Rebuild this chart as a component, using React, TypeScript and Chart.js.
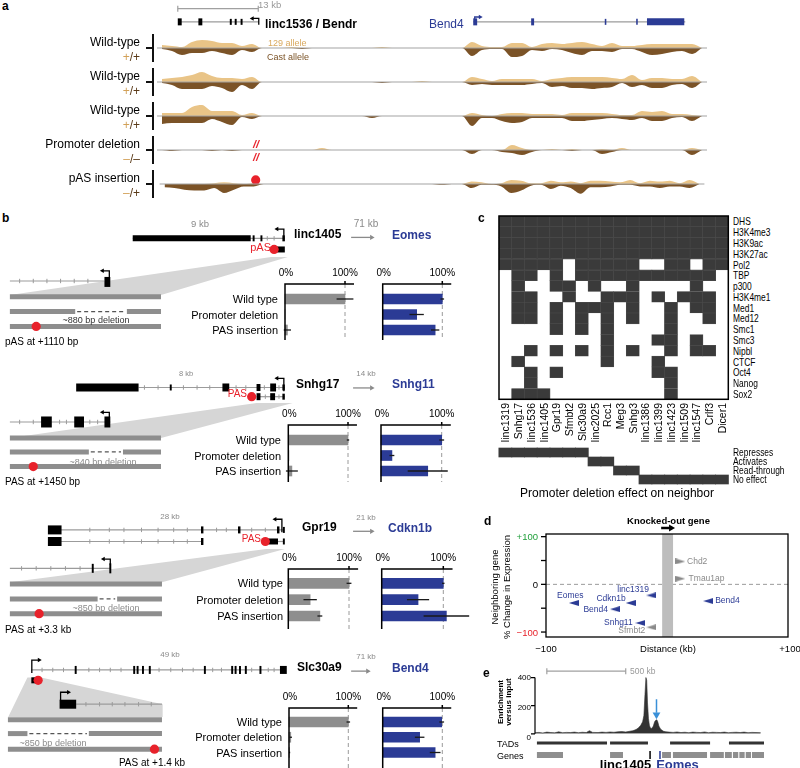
import React, { useEffect, useRef } from "react";
import { Chart, registerables } from "chart.js";
Chart.register(...registerables);

const FONT = "'Liberation Sans', Arial, Helvetica, sans-serif";
const TAN = "#e9c487";
const BROWN = "#7b5327";
const BLUE = "#2b3b95";
const RED = "#e8222b";
const DARK = "#3a3a3a";
const GRAY = "#8e8e8e";

/* ================= DATA ================= */
/* Panel a: allele-specific RNA coverage, 55 bins across the locus (track units) */
const A_BIN = 10;
const A_WT1_129 = [3,2,1,6,8,7,5,5,2,4, 0,0,0,1,0,0,0,0,0,0,0,0,1,0,0,0,0,0,0,0,0, 6,2,1,1,5,5,1,4,5,4,5,6,4,2,5,2,2,3,4,4,4,4,4,0];
const A_WT1_CAST = [1,3,7,5,5,3,5,7,2,4, 0,0,0,0,1,0,0,0,0,0,0,0,0,0,0,0,0,0,0,0,0, 8,2,1,1,9,8,2,3,1,2,5,7,3,3,4,1,1,4,7,6,4,3,6,0];
const A_WT2_129 = [3,4,5,7,10,6,4,4,3,5, 0,0,0,0,0,0,0,0,0,0,0,0,0,0,0,0,1,0,0,0,0, 5,3,1,3,3,3,3,1,3,4,5,5,5,5,4,3,7,2,4,4,3,3,6,0];
const A_WT2_CAST = [1,3,7,7,7,4,6,10,3,7, 0,0,0,0,0,0,0,0,0,0,0,0,1,0,0,0,0,0,0,0,0, 3,2,3,3,3,3,2,1,5,4,6,6,7,6,5,1,5,3,6,6,3,2,6,0];
const A_WT3_129 = [3,3,3,9,11,5,5,5,1,3, 0,0,0,0,0,0,0,0,0,0,0,0,0,0,0,0,0,0,0,0,0, 3,1,0,2,3,3,2,2,2,1,3,3,3,3,2,1,1,5,4,5,2,2,1,0];
const A_WT3_CAST = [8,7,7,7,7,3,6,9,1,3, 0,0,0,0,0,0,0,0,0,0,0,2,0,0,0,0,0,0,0,0,0, 10,2,2,5,7,6,2,2,2,2,5,5,4,3,2,3,4,2,5,5,2,1,5,0];
const A_DEL_129 = [0,0,0,0,0,0,0,0,0,0, 0,0,0,0,0,0,2,0,0,0,0,0,0,0,0,0,0,0,0,0,0, 0,0,0,0,5,2,0,0,1,0,1,0,0,1,0,2,0,0,0,0,0,0,2,0];
const A_DEL_CAST = [0,1,0,0,0,1,0,1,0,0, 0,0,0,0,0,0,0,0,0,0,0,0,0,0,0,0,0,0,0,0,0, 4,0,0,2,3,5,2,0,0,0,1,0,0,4,2,0,0,0,0,0,0,0,5,0];
const A_PAS_129 = [0,0,0,0,0,1,2,1,0,1, 0,0,0,0,0,0,0,0,0,0,0,0,0,0,0,0,0,0,0,0,0, 3,2,0,1,5,4,1,1,4,2,3,1,4,4,3,2,5,1,4,3,4,1,5,0];
const A_PAS_CAST = [4,5,7,8,8,5,11,7,3,3, 0,0,0,0,0,0,0,0,0,0,0,0,0,0,0,0,0,0,1,0,0, 5,1,1,3,11,8,2,1,6,2,5,12,4,4,3,1,1,3,3,5,3,3,5,0];
const A_TRACK_LABELS = ["Wild-type", "Wild-type", "Wild-type", "Promoter deletion", "pAS insertion"];
const A_GENOTYPES = [["+", "/+"], ["+", "/+"], ["+", "/+"], ["–", "/–"], ["–", "/+"]];
const A_PAS_SITE = 97;

/* Panel b: expression relative to wild type (%) */
const B_CONDITIONS = ["Wild type", "Promoter deletion", "PAS insertion"];
const B_GENES = ["linc1405", "Snhg17", "Gpr19", "Slc30a9"];
const B_NEIGHBORS = ["Eomes", "Snhg11", "Cdkn1b", "Bend4"];
const B_DISTANCES = ["71 kb", "14 kb", "21 kb", "71 kb"];
const B_GENE_SIZES = ["9 kb", "8 kb", "28 kb", "49 kb"];
const B1_GENE = [100, 0, 4];   const B1_GENE_ERR = [14, 0, 6];
const B1_NEIGH = [100, 57, 88]; const B1_NEIGH_ERR = [3, 12, 7];
const B2_GENE = [100, 1, 6];   const B2_GENE_ERR = [2, 0, 10];
const B2_NEIGH = [100, 18, 77]; const B2_NEIGH_ERR = [4, 4, 33];
const B3_GENE = [100, 36, 52]; const B3_GENE_ERR = [4, 11, 4];
const B3_NEIGH = [100, 59, 105]; const B3_NEIGH_ERR = [2, 18, 37];
const B4_GENE = [100, 3, 1];   const B4_GENE_ERR = [3, 2, 1];
const B4_NEIGH = [99, 62, 88]; const B4_NEIGH_ERR = [4, 8, 9];

/* Panel c: chromatin features at each promoter */
const C_GENES = ["linc1319","Snhg17","linc1536","linc1405","Gpr19","Sfmbt2","Slc30a9","linc2025","Rcc1","Meg3","Snhg3","linc1386","linc1399","linc1423","linc1509","linc1547","Crlf3","Dicer1"];
const C_FEATURES = ["DHS","H3K4me3","H3K9ac","H3K27ac","Pol2","TBP","p300","H3K4me1","Med1","Med12","Smc1","Smc3","Nipbl","CTCF","Oct4","Nanog","Sox2"];
const C_MATRIX = [
  "111111111111111111",
  "111111111111111111",
  "111111111111111111",
  "111111111111111111",
  "111110111110011011",
  "011010111111111110",
  "010011010010000100",
  "011001001110101110",
  "011010111010010110",
  "011010101010010010",
  "000010101000010000",
  "000000001000110100",
  "001010101010010110",
  "010000001000100000",
  "001010000000110000",
  "001000000000010000",
  "011100000000010000",
];
const C_EFFECTS = ["Represses", "Activates", "Read-through", "No effect"];
const C_EFFECT_OF_GENE = [0,0,0,0,0,0,0,1,1,2,2,3,3,3,3,3,3,3];

/* Panel d: neighbouring gene change vs distance */
const D_GENES = ["Eomes","Bend4","Cdkn1b","linc1319","Snhg11","Sfmbt2","Chd2","Tmau1ap","Bend4"];
const D_DIST_KB = [-77, -43, -30, -13, -22, -13, 11, 11, 34];
const D_CHANGE = [-39, -52, -39, -23, -81, -90, 48, 12, -35];
const D_SIGNIFICANT = [true, true, true, true, true, false, false, false, true];
const D_STRAND = ["-", "-", "-", "-", "-", "-", "+", "+", "-"];
const D_KO_GENE = [-4, 5];
const D_YTICKS = [100, 50, 0, -50, -100];

/* Panel e: 4C-style enrichment around linc1405 ([kb, enrichment]) */
const E_ENRICH = [[0,8],[25,10],[50,6],[75,12],[100,9],[125,7],[150,14],[175,8],[200,10],[225,9],[250,12],[275,8],[300,11],[325,9],[345,22],[365,10],[400,9],[425,12],[450,10],[475,13],[500,11],[525,14],[550,16],[575,13],[600,18],[620,22],[640,30],[655,42],[670,60],[682,85],[690,130],[697,280],[703,400],[708,380],[713,220],[719,110],[725,60],[731,42],[740,38],[750,55],[758,85],[765,96],[772,100],[778,85],[785,55],[795,35],[805,25],[815,18],[830,14],[850,12],[875,10],[900,13],[925,9],[950,11],[975,8],[1000,12],[1025,10],[1050,9],[1075,13],[1100,8],[1125,11],[1150,10],[1175,9],[1200,12],[1225,8],[1250,10],[1275,11],[1300,9],[1325,12],[1350,8],[1375,10],[1400,9],[1431,8]];
const E_TADS = [[12,450],[469,706],[844,1094],[1212,1431]];
const E_GENES = [[12,175],[469,550],[794,850],[862,1075],[1094,1180],[1187,1230],[1237,1270],[1277,1310],[1317,1350],[1356,1431]];
const E_LINC1405_KB = 719;
const E_EOMES_KB = 781;
const E_YTICKS = [0, 200, 400];
const E_SCALE_KB = [75, 575];

/* ================= GENE DIAGRAMS (layout units) ================= */
const DIAG_A = {
  scale: [[173, 255, 5]],
  lines: [[174, 255, 24]],
  exons: [[173, 177, 24, 7], [194, 198, 24, 7], [226, 228, 24, 6], [231, 233, 24, 6], [237, 239, 24, 6]],
  arrows: [[255.5, 28, 19, 249]],
};
const DIAG_A_BEND4 = {
  lines: [[474, 690, 24]],
  exons: [[474, 478, 24, 7], [533, 536, 24, 7], [608, 609.6, 24, 6], [640, 641.6, 24, 6], [651, 689, 24, 7]],
  arrows: [[475.5, 24, 17, 481]],
};
const DIAG_B1 = {
  polys: [[[5, 296], [160, 296], [290, 255], [273, 255]]],
  lines: [[131, 287, 235], [5, 102, 281]],
  ticks: [[269, 235], [276, 235], [15, 281], [29, 281], [43, 281], [57, 281], [71, 281], [85, 281]],
  exons: [[131, 252, 235, 6], [254, 256, 235, 6], [262, 264, 235, 6], [284.5, 287, 235, 6], [279, 287, 247, 6], [102, 108, 282, 10]],
  arrows: [[286, 238, 225, 279], [107, 277, 270, 100]],
  bars: [[5, 160, 298], [5, 72, 314], [125, 160, 314], [5, 160, 330]],
  dashes: [[74, 123, 314]],
  dots: [[276, 247], [32, 330]],
  garrows: [[355, 378, 234]],
};
const DIAG_B2 = {
  polys: [[[5, 439], [160, 439], [295, 401], [258, 401]]],
  lines: [[137, 287, 384], [258, 287, 394], [5, 108, 421.5]],
  ticks: [[143, 384], [157, 384], [183, 384], [197, 384], [210, 384], [237, 384], [247, 384], [266, 384], [281, 384], [267, 394], [281, 394], [15, 421.5], [29, 421.5], [56, 421.5], [63, 421.5], [87, 421.5], [95, 421.5]],
  exons: [[73, 137, 384, 8], [169, 171, 384, 6], [223, 230, 384, 8], [258, 262, 384, 7], [272, 278, 384, 8], [284.5, 287, 384, 6], [258, 262, 394, 7], [272, 277, 394, 7], [284.5, 287, 394, 6], [37, 48, 421.5, 11], [71, 81, 421.5, 11], [102, 108, 421.5, 11]],
  arrows: [[286, 388, 374, 279], [107, 416, 411, 100]],
  bars: [[5, 160, 439], [5, 86, 454], [121, 160, 454], [5, 160, 470]],
  dashes: [[88, 119, 454]],
  dots: [[253, 394], [29, 470]],
  garrows: [[357, 378, 384.5]],
};
const DIAG_B3 = {
  polys: [[[5, 583], [161, 583], [287, 547], [268, 547]]],
  lines: [[50, 286, 526.5], [50, 202, 539], [270, 286, 539], [5, 108, 568]],
  ticks: [[87, 526.5], [107, 526.5], [122, 526.5], [140, 526.5], [157, 526.5], [173, 526.5], [187, 526.5], [217, 526.5], [227, 526.5], [253, 526.5], [267, 526.5], [87, 539], [107, 539], [122, 539], [140, 539], [157, 539], [173, 539], [187, 539], [17, 568], [32, 568], [47, 568], [62, 568], [77, 568]],
  exons: [[44, 58, 526.5, 9], [201, 203.5, 526.5, 7], [239, 241.5, 526.5, 7], [279, 281.5, 526.5, 7], [285, 287, 526.5, 6], [44, 58, 539, 9], [201, 203.5, 539, 7], [270, 280, 539, 6], [285, 287, 539, 6], [89, 91, 568, 9], [107, 109, 568, 10]],
  arrows: [[284, 529, 515, 277], [108, 564, 558, 101]],
  bars: [[5, 161, 585], [5, 95, 601], [115, 161, 601], [5, 161, 617]],
  dashes: [[97, 113, 601]],
  dots: [[267, 539], [35, 617]],
  garrows: [[357, 378, 528]],
};
const DIAG_B4 = {
  polys: [[[23, 675], [37, 675], [161.7, 704], [161.7, 718], [3.3, 718]]],
  lines: [[27, 282, 666.7], [73, 161, 704]],
  ticks: [[38, 666.7], [49, 666.7], [60, 666.7], [86, 666.7], [97, 666.7], [108, 666.7], [119, 666.7], [158, 666.7], [170, 666.7], [182, 666.7], [193, 666.7], [213, 666.7], [222, 666.7], [253, 666.7], [270, 666.7], [276, 666.7], [83, 704], [97, 704], [110, 704], [123, 704], [137, 704], [150, 704]],
  exons: [[71.5, 73.5, 666.7, 8], [131.5, 133.5, 666.7, 8], [135, 137, 666.7, 8], [140.5, 142.5, 666.7, 8], [147.5, 149.5, 666.7, 8], [204, 206, 666.7, 8], [232, 234, 666.7, 8], [235.5, 237.5, 666.7, 8], [240, 242, 666.7, 8], [246, 248, 666.7, 8], [261, 263, 666.7, 8], [282, 289, 666.7, 8], [27, 37, 678, 6], [56, 73, 704, 9]],
  arrows: [[27.5, 670, 656, 35], [57, 700, 691, 65]],
  bars: [[3, 161, 721], [3, 23, 736], [86, 161, 736], [3, 161, 753]],
  dashes: [[25, 84, 736]],
  dots: [[34, 678], [153.3, 753]],
  garrows: [[355, 374, 668]],
};

/* ================= HELPERS ================= */
function Cv({ area, m = [0, 0, 0, 0], make }: any) {
  const ref = useRef<HTMLCanvasElement>(null);
  const [t, r, b, l] = m;
  const cl = Math.floor(area.x0 - l), ct = Math.floor(area.y0 - t);
  const cw = Math.ceil(area.x1 + r) - cl, chh = Math.ceil(area.y1 + b) - ct;
  useEffect(() => {
    const cfg = make();
    const o = cfg.options || {};
    // draw datasets in the order they are listed (first = bottom layer)
    cfg.data.datasets.forEach((d: any, i: number) => { if (d.order === undefined) d.order = -i; });
    cfg.options = {
      ...o,
      responsive: false,
      maintainAspectRatio: false,
      animation: false,
      events: [],
      layout: { padding: { left: area.x0 - cl, top: area.y0 - ct, right: cl + cw - area.x1, bottom: ct + chh - area.y1 } },
      plugins: { legend: { display: false }, tooltip: { enabled: false }, colors: { enabled: false }, ...(o.plugins || {}) },
    };
    const ch = new Chart(ref.current as HTMLCanvasElement, cfg);
    return () => ch.destroy();
  }, []);
  return <canvas ref={ref} width={cw} height={chh} style={{ position: "absolute", left: cl, top: ct, width: cw, height: chh }} />;
}

const hidden = (min: number, max: number, reverse = false) => ({ type: "linear", display: false, offset: false, grace: 0, bounds: "data", min, max, reverse });

function diag(d: any, ink: string) {
  const out: any[] = [];
  const seg = (p: number[][], o: any) => out.push({ data: p.map((q) => ({ x: q[0], y: q[1] })), pointRadius: 0, clip: false, borderWidth: 1, borderColor: ink, showLine: true, ...o });
  const pts = (p: number[][], o: any) => out.push({ data: p.map((q) => ({ x: q[0], y: q[1] })), showLine: false, clip: false, ...o });
  (d.polys || []).forEach((p: number[][]) => seg([...p, p[0]], { fill: "shape", backgroundColor: "#d6d6d6", borderWidth: 0, borderColor: "rgba(0,0,0,0)" }));
  (d.scale || []).forEach(([a, b, y]: number[]) => {
    seg([[a, y], [b, y]], { borderColor: "#a0a0a0", borderWidth: 1.2 });
    pts([[a, y], [b, y]], { pointStyle: "line", pointRotation: 90, pointRadius: 3, pointBorderColor: "#a0a0a0", pointBorderWidth: 1.2 });
  });
  (d.lines || []).forEach(([a, b, y]: number[]) => seg([[a, y], [b, y]], { borderColor: "#9b9b9b", borderWidth: 1.2 }));
  if (d.ticks) pts(d.ticks, { pointStyle: "line", pointRotation: 90, pointRadius: 2.2, pointBorderColor: "#9b9b9b", pointBorderWidth: 1 });
  (d.bars || []).forEach(([a, b, y]: number[]) => seg([[a, y], [b, y]], { borderColor: GRAY, borderWidth: 5, borderCapStyle: "butt" }));
  (d.dashes || []).forEach(([a, b, y]: number[]) => seg([[a, y], [b, y]], { borderColor: "#555", borderWidth: 1.2, borderDash: [4, 3] }));
  (d.exons || []).forEach(([a, b, y, h]: number[]) => seg([[a, y], [b, y]], { borderWidth: h, borderCapStyle: "butt" }));
  (d.arrows || []).forEach(([x, y0, y1, x2]: number[]) => {
    seg([[x, y0], [x, y1], [x2, y1]], { borderWidth: 1.3, borderJoinStyle: "miter" });
    pts([[x2, y1]], { pointStyle: "triangle", pointRotation: x2 < x ? -90 : 90, pointRadius: 2.6, pointBackgroundColor: ink, pointBorderColor: ink, pointBorderWidth: 0 });
  });
  (d.garrows || []).forEach(([a, b, y]: number[]) => {
    seg([[a, y], [b - 3, y]], { borderColor: "#8a8a8a", borderWidth: 1.3 });
    pts([[b - 2, y]], { pointStyle: "triangle", pointRotation: 90, pointRadius: 3, pointBackgroundColor: "#8a8a8a", pointBorderWidth: 0 });
  });
  if (d.dots) pts(d.dots, { pointStyle: "circle", pointRadius: 4.6, pointBackgroundColor: RED, pointBorderWidth: 0 });
  return out;
}

const diagCfg = (datasets: any[], x0: number, x1: number, y0: number, y1: number) => ({
  type: "line",
  data: { datasets },
  options: { scales: { x: hidden(x0, x1), y: hidden(y0, y1, true) } },
});

const zeroLine = {
  id: "zeroLine",
  afterDatasetsDraw(ch: any) {
    const { ctx, chartArea: a, scales } = ch;
    const p = scales.y.getPixelForValue(0);
    ctx.save();
    ctx.strokeStyle = "#a3a3a3";
    ctx.lineWidth = 1;
    ctx.beginPath();
    ctx.moveTo(a.left, p);
    ctx.lineTo(a.right, p);
    ctx.stroke();
    ctx.restore();
  },
};

const trackCfg = (up: number[], down: number[], pas: boolean) => {
  const datasets: any[] = [
    { data: up.map((v, i) => ({ x: i * A_BIN + A_BIN / 2, y: v })), fill: "origin", backgroundColor: TAN, borderColor: "rgba(0,0,0,0)", borderWidth: 0, pointRadius: 0, cubicInterpolationMode: "monotone" },
    { data: down.map((v, i) => ({ x: i * A_BIN + A_BIN / 2, y: -v })), fill: "origin", backgroundColor: BROWN, borderColor: "rgba(0,0,0,0)", borderWidth: 0, pointRadius: 0, cubicInterpolationMode: "monotone" },
  ];
  if (pas) datasets.push({ data: [{ x: A_PAS_SITE, y: 5 }], showLine: false, pointRadius: 4.6, pointBackgroundColor: RED, pointBorderWidth: 0, clip: false });
  return { type: "line", data: { datasets }, options: { scales: { x: hidden(0, up.length * A_BIN), y: hidden(-14, 14) } }, plugins: [zeroLine] };
};

const barFrame = {
  id: "barFrame",
  beforeDatasetsDraw(ch: any) {
    const { ctx, chartArea: a, scales } = ch;
    const p = scales.x.getPixelForValue(100);
    ctx.save();
    ctx.strokeStyle = "#9a9a9a";
    ctx.lineWidth = 1;
    ctx.setLineDash([4, 3]);
    ctx.beginPath();
    ctx.moveTo(p, a.top);
    ctx.lineTo(p, a.bottom);
    ctx.stroke();
    ctx.restore();
  },
  afterDatasetsDraw(ch: any) {
    const { ctx, chartArea: a, scales } = ch;
    const ds = ch.data.datasets[0];
    const meta = ch.getDatasetMeta(0);
    ctx.save();
    ctx.strokeStyle = "#1a1a1a";
    ctx.lineWidth = 1.3;
    meta.data.forEach((el: any, i: number) => {
      const v = ds.data[i].x, e = ds.errs[i];
      if (!e) return;
      ctx.beginPath();
      ctx.moveTo(scales.x.getPixelForValue(v - e), el.y);
      ctx.lineTo(scales.x.getPixelForValue(v + e), el.y);
      ctx.stroke();
    });
    const x0 = scales.x.getPixelForValue(0), x100 = scales.x.getPixelForValue(100);
    ctx.strokeStyle = "#000";
    ctx.lineWidth = 1.5;
    ctx.beginPath();
    ctx.moveTo(x0, a.bottom);
    ctx.lineTo(x0, a.top);
    ctx.lineTo(a.right, a.top);
    ctx.moveTo(x100, a.top);
    ctx.lineTo(x100, a.top - 3);
    ctx.stroke();
    ctx.restore();
  },
};

const barCfg = (vals: number[], errs: number[], color: string, L: any) => {
  const step = (L.rows[2] - L.rows[0]) / 2;
  return {
    type: "bar",
    data: { datasets: [{ data: vals.map((v, i) => ({ x: v, y: i })), errs, backgroundColor: color, barThickness: 10, borderWidth: 0, clip: false }] },
    options: { indexAxis: "y", scales: { x: hidden(0, 115), y: hidden(-(L.rows[0] - L.top) / step, 2 + (L.bot - L.rows[2]) / step, true) } },
    plugins: [barFrame],
  };
};

function triangle(color: string, left: boolean) {
  const c = document.createElement("canvas");
  c.width = 10;
  c.height = 6;
  const g = c.getContext("2d") as CanvasRenderingContext2D;
  g.fillStyle = color;
  g.beginPath();
  if (left) { g.moveTo(0, 3); g.lineTo(10, 0); g.lineTo(10, 6); } else { g.moveTo(10, 3); g.lineTo(0, 0); g.lineTo(0, 6); }
  g.closePath();
  g.fill();
  return c;
}

/* label placement for panel d (style only) */
const D_LABEL_DX = [-3.5, -7, -5, -2.3, -7.7, -6, 6.7, 8.3, 7];
const D_LABEL_DY = [-7, 0.5, -4.5, -5.5, 0, 3.7, 0, 0, 0];
const D_LABEL_ALIGN = ["center", "right", "right", "right", "right", "right", "left", "left", "left"];

const dCfg = () => {
  const tri = {
    bl: triangle(BLUE, true), br: triangle(BLUE, false),
    gl: triangle("#8a8a8a", true), gr: triangle("#8a8a8a", false),
  };
  const Y0 = -110.4, Y1 = 105.6;
  return {
    type: "line",
    data: {
      datasets: [
        { data: [[D_KO_GENE[0], Y0], [D_KO_GENE[0], Y1], [D_KO_GENE[1], Y1], [D_KO_GENE[1], Y0], [D_KO_GENE[0], Y0]].map(([x, y]) => ({ x, y })), fill: "shape", backgroundColor: "#bdbdbd", borderWidth: 0, borderColor: "rgba(0,0,0,0)", pointRadius: 0 },
        {
          data: D_DIST_KB.map((x, i) => ({ x, y: D_CHANGE[i] })),
          showLine: false,
          pointStyle: (c: any) => {
            const i = c.dataIndex;
            return D_SIGNIFICANT[i] ? (D_STRAND[i] === "-" ? tri.bl : tri.br) : (D_STRAND[i] === "-" ? tri.gl : tri.gr);
          },
          pointRadius: 5,
          clip: false,
        },
      ],
    },
    options: { scales: { x: hidden(-100, 100), y: hidden(Y0, Y1) } },
    plugins: [{
      id: "dp",
      beforeDatasetsDraw(ch: any) {
        const { ctx, chartArea: a, scales } = ch;
        const p = scales.y.getPixelForValue(0);
        ctx.save();
        ctx.strokeStyle = "#9a9a9a";
        ctx.lineWidth = 1;
        ctx.setLineDash([4, 3]);
        ctx.beginPath();
        ctx.moveTo(a.left, p);
        ctx.lineTo(a.right, p);
        ctx.stroke();
        ctx.restore();
      },
      afterDatasetsDraw(ch: any) {
        const { ctx, chartArea: a, scales } = ch;
        ctx.save();
        ctx.strokeStyle = "#000";
        ctx.lineWidth = 1.3;
        ctx.strokeRect(a.left, a.top, a.right - a.left, a.bottom - a.top);
        D_YTICKS.forEach((v) => {
          const p = scales.y.getPixelForValue(v);
          ctx.beginPath();
          ctx.moveTo(a.left - 5, p);
          ctx.lineTo(a.left, p);
          ctx.stroke();
        });
        const k0 = scales.x.getPixelForValue(D_KO_GENE[0]), k1 = scales.x.getPixelForValue(D_KO_GENE[1]);
        const ay = a.top - 6;
        ctx.lineWidth = 2.5;
        ctx.beginPath();
        ctx.moveTo(k0 - 1, ay);
        ctx.lineTo(k1 - 3, ay);
        ctx.stroke();
        ctx.fillStyle = "#000";
        ctx.beginPath();
        ctx.moveTo(k1 + 2, ay);
        ctx.lineTo(k1 - 4, ay - 3.5);
        ctx.lineTo(k1 - 4, ay + 3.5);
        ctx.closePath();
        ctx.fill();
        ctx.font = `8.5px ${FONT}`;
        ctx.textBaseline = "middle";
        D_GENES.forEach((g, i) => {
          ctx.fillStyle = D_SIGNIFICANT[i] ? BLUE : "#8a8a8a";
          ctx.textAlign = D_LABEL_ALIGN[i];
          ctx.fillText(g, scales.x.getPixelForValue(D_DIST_KB[i]) + D_LABEL_DX[i], scales.y.getPixelForValue(D_CHANGE[i]) + D_LABEL_DY[i]);
        });
        ctx.restore();
      },
    }],
  };
};

const eCfg = () => ({
  type: "line",
  data: {
    datasets: [
      { data: E_ENRICH.map(([x, y]) => ({ x, y })), fill: "origin", backgroundColor: "#333", borderColor: "#333", borderWidth: 0.6, pointRadius: 0 },
      { data: [{ x: E_EOMES_KB - 11, y: 245 }, { x: E_EOMES_KB - 11, y: 150 }], borderColor: "#3a90d8", borderWidth: 1.5, pointRadius: 0, clip: false },
      { data: [{ x: E_EOMES_KB - 11, y: 135 }], showLine: false, pointStyle: "triangle", pointRotation: 180, pointRadius: 4.5, pointBackgroundColor: "#3a90d8", pointBorderWidth: 0, clip: false },
      { data: E_SCALE_KB.map((x) => ({ x, y: 445 })), borderColor: "#a0a0a0", borderWidth: 1.2, pointStyle: "line", pointRotation: 90, pointRadius: 3, pointBorderColor: "#a0a0a0", pointBorderWidth: 1.2, clip: false },
    ],
  },
  options: { scales: { x: hidden(0, 1431), y: hidden(0, 411) } },
  plugins: [{
    id: "ep",
    afterDatasetsDraw(ch: any) {
      const { ctx, chartArea: a, scales } = ch;
      ctx.save();
      ctx.strokeStyle = "#000";
      ctx.lineWidth = 1.2;
      ctx.beginPath();
      ctx.moveTo(a.left, scales.y.getPixelForValue(400));
      ctx.lineTo(a.left, scales.y.getPixelForValue(0));
      E_YTICKS.forEach((v) => {
        const p = scales.y.getPixelForValue(v);
        ctx.moveTo(a.left - 4, p);
        ctx.lineTo(a.left, p);
      });
      ctx.stroke();
      ctx.restore();
    },
  }],
});

const eTrackCfg = () => {
  const ds: any[] = [];
  E_TADS.forEach(([a, b]) => ds.push({ data: [{ x: a, y: 743 }, { x: b, y: 743 }], borderColor: "#333", borderWidth: 3, borderCapStyle: "butt", pointRadius: 0, clip: false }));
  E_GENES.forEach(([a, b]) => ds.push({ data: [{ x: a, y: 755 }, { x: b, y: 755 }], borderColor: GRAY, borderWidth: 6, borderCapStyle: "butt", pointRadius: 0, clip: false }));
  ds.push({ data: [{ x: E_LINC1405_KB, y: 751 }, { x: E_LINC1405_KB, y: 759 }], borderColor: "#000", borderWidth: 1.5, pointRadius: 0, clip: false });
  ds.push({ data: [{ x: E_EOMES_KB, y: 751 }, { x: E_EOMES_KB, y: 759 }], borderColor: BLUE, borderWidth: 1.5, pointRadius: 0, clip: false });
  return { type: "line", data: { datasets: ds }, options: { scales: { x: hidden(0, 1431), y: hidden(738, 762, true) } } };
};

const heatCfg = () => {
  const cells: any[] = [];
  C_MATRIX.forEach((row, r) => row.split("").forEach((v, c) => { if (v === "1") cells.push({ x: c + 0.5, y: [r, r + 1] }); }));
  return {
    type: "bar",
    data: { datasets: [{ data: cells, backgroundColor: DARK, borderColor: "#4e4e4e", borderWidth: 0.6, borderSkipped: false, barThickness: 13.1, clip: false }] },
    options: { scales: { x: hidden(0, C_GENES.length), y: hidden(0, C_FEATURES.length, true) } },
    plugins: [{
      id: "hf",
      afterDatasetsDraw(ch: any) {
        const { ctx, chartArea: a } = ch;
        ctx.save();
        ctx.strokeStyle = "#000";
        ctx.lineWidth = 1.5;
        ctx.strokeRect(a.left, a.top, a.right - a.left, a.bottom - a.top);
        ctx.restore();
      },
    }],
  };
};

const effectCfg = () => ({
  type: "bar",
  data: { datasets: [{ data: C_EFFECT_OF_GENE.map((e, c) => ({ x: c + 0.5, y: [e, e + 1] })), backgroundColor: DARK, borderWidth: 0, barThickness: 13.1, clip: false }] },
  options: { scales: { x: hidden(0, C_GENES.length), y: hidden(0, C_EFFECTS.length, true) } },
});

/* ================= TEXT HELPERS ================= */
function T({ x, y, s = 11, c = "#000", b = false, a = "l", it = false, children }: any) {
  const tx = a === "l" ? "0" : a === "r" ? "-100%" : "-50%";
  return (
    <div style={{ position: "absolute", left: x, top: y, fontSize: s, color: c, fontWeight: b ? 700 : 400, fontStyle: it ? "italic" : "normal", lineHeight: 1, whiteSpace: "nowrap", transform: `translate(${tx},-50%)` }}>
      {children}
    </div>
  );
}
function RT({ x, y, s = 9.5, b = false, children }: any) {
  return (
    <div style={{ position: "absolute", left: x, top: y, fontSize: s, fontWeight: b ? 700 : 400, lineHeight: 1, whiteSpace: "nowrap", transform: "translate(-50%,-50%) rotate(-90deg)" }}>
      {children}
    </div>
  );
}

/* ================= LAYOUT ================= */
const A_YB = [48, 82, 116, 150, 184];
const A_TRACKS = [[A_WT1_129, A_WT1_CAST], [A_WT2_129, A_WT2_CAST], [A_WT3_129, A_WT3_CAST], [A_DEL_129, A_DEL_CAST], [A_PAS_129, A_PAS_CAST]];
const B_DIAGS = [DIAG_B1, DIAG_B2, DIAG_B3, DIAG_B4];
const B_DIAG_Y = [[212, 350], [365, 490], [505, 640], [645, 768]];
const B_VALUES = [[B1_GENE, B1_GENE_ERR, B1_NEIGH, B1_NEIGH_ERR], [B2_GENE, B2_GENE_ERR, B2_NEIGH, B2_NEIGH_ERR], [B3_GENE, B3_GENE_ERR, B3_NEIGH, B3_NEIGH_ERR], [B4_GENE, B4_GENE_ERR, B4_NEIGH, B4_NEIGH_ERR]];
const B_LAYOUT = [
  { gx0: 285, gx100: 345, nx0: 382.7, nx100: 442.3, top: 284, bot: 340, rows: [299, 314.5, 330], labR: 278, geneY: 234, distY: 224, sizeX: 200, sizeY: 224, nameX: 294, neighX: 392, sizeS: 9.5, distS: 10 },
  { gx0: 288.3, gx100: 348, nx0: 381, nx100: 441.7, top: 425, bot: 482, rows: [440, 455.5, 471], labR: 281, geneY: 383.5, distY: 374, sizeX: 186, sizeY: 374, nameX: 296, neighX: 392, sizeS: 7.5, distS: 8 },
  { gx0: 288.3, gx100: 349, nx0: 381.7, nx100: 443.3, top: 569, bot: 629, rows: [583.3, 600, 616], labR: 283, geneY: 527, distY: 518, sizeX: 170, sizeY: 516.5, nameX: 302, neighX: 388, sizeS: 8, distS: 8 },
  { gx0: 289, gx100: 348.3, nx0: 382.7, nx100: 442.3, top: 708, bot: 768, rows: [722, 736.7, 752.5], labR: 282, geneY: 667, distY: 657, sizeX: 170, sizeY: 655, nameX: 297, neighX: 392, sizeS: 8, distS: 8 },
];
const C_X0 = 499, C_X1 = 728.3, C_Y0 = 216, C_Y1 = 399.3;
const C_COLW = (C_X1 - C_X0) / C_GENES.length;
const C_ROWH = (C_Y1 - C_Y0) / C_FEATURES.length;

export default function App() {
  return (
    <div style={{ position: "absolute", left: 0, top: 0, width: 800, height: 768, overflow: "hidden", background: "#fff", fontFamily: FONT, color: "#000" }}>
      {/* ---------- panel a ---------- */}
      <Cv area={{ x0: 150, x1: 715, y0: 0, y1: 34 }} make={() => diagCfg([...diag(DIAG_A, "#000"), ...diag(DIAG_A_BEND4, BLUE)], 150, 715, 0, 34)} />
      {A_TRACKS.map(([u, d], k) => (
        <Cv key={"t" + k} area={{ x0: 157, x1: 707, y0: A_YB[k] - 14, y1: A_YB[k] + 14 }} m={[2, 2, 2, 2]} make={() => trackCfg(u, d, k === 4)} />
      ))}
      {A_YB.map((yb, k) => (
        <React.Fragment key={"ax" + k}>
          <div style={{ position: "absolute", left: 152, top: yb - 14, width: 1.6, height: 28, background: "#111" }} />
          <div style={{ position: "absolute", left: 146, top: yb - 0.7, width: 7, height: 1.4, background: "#111" }} />
          <T x={140} y={yb - 6} s={12} a="r">{A_TRACK_LABELS[k]}</T>
          <T x={140} y={yb + 8.5} s={12} a="r"><span style={{ color: "#d2a158" }}>{A_GENOTYPES[k][0]}</span><span style={{ color: "#5a3a18" }}>{A_GENOTYPES[k][1]}</span></T>
        </React.Fragment>
      ))}
      <T x={2} y={6} s={12} b>a</T>
      <T x={258} y={5} s={9.5} c="#999">13 kb</T>
      <T x={265} y={24} s={12} b>linc1536 / Bendr</T>
      <T x={429} y={24} s={12} c={BLUE}>Bend4</T>
      <T x={268} y={43} s={9} c="#d9a95e">129 allele</T>
      <T x={267} y={57} s={9} c={BROWN}>Cast allele</T>
      <T x={256} y={144} s={11} c={RED} b it a="c">//</T>
      <T x={256} y={157} s={11} c={RED} b it a="c">//</T>

      {/* ---------- panel b ---------- */}
      <T x={2} y={217.5} s={12} b>b</T>
      {B_DIAGS.map((d, k) => (
        <Cv key={"bd" + k} area={{ x0: 0, x1: 400, y0: B_DIAG_Y[k][0], y1: B_DIAG_Y[k][1] }} make={() => diagCfg(diag(d, "#000"), 0, 400, B_DIAG_Y[k][0], B_DIAG_Y[k][1])} />
      ))}
      {B_LAYOUT.map((L, k) => {
        const [gv, ge, nv, ne] = B_VALUES[k];
        const gArea = { x0: L.gx0, x1: L.gx0 + 1.15 * (L.gx100 - L.gx0), y0: L.top, y1: L.bot };
        const nArea = { x0: L.nx0, x1: L.nx0 + 1.15 * (L.nx100 - L.nx0), y0: L.top, y1: L.bot };
        return (
          <React.Fragment key={"bb" + k}>
            <Cv area={gArea} m={[8, 45, 2, 3]} make={() => barCfg(gv, ge, GRAY, { ...L })} />
            <Cv area={nArea} m={[8, 45, 2, 3]} make={() => barCfg(nv, ne, BLUE, { ...L })} />
            <T x={L.gx0 + 1} y={L.top - 11} s={10} a="c">0%</T>
            <T x={L.gx100} y={L.top - 11} s={10} a="c">100%</T>
            <T x={L.nx0 + 1} y={L.top - 11} s={10} a="c">0%</T>
            <T x={L.nx100} y={L.top - 11} s={10} a="c">100%</T>
            {B_CONDITIONS.map((c, i) => (
              <T key={c} x={L.labR} y={L.rows[i]} s={11} a="r">{c}</T>
            ))}
            <T x={L.sizeX} y={L.sizeY} s={L.sizeS} c="#8a8a8a" a="c">{B_GENE_SIZES[k]}</T>
            <T x={L.nameX} y={L.geneY} s={12} b>{B_GENES[k]}</T>
            <T x={366} y={L.distY} s={L.distS} c="#8a8a8a" a="c">{B_DISTANCES[k]}</T>
            <T x={L.neighX} y={L.geneY + 0.5} s={12} b c={BLUE}>{B_NEIGHBORS[k]}</T>
          </React.Fragment>
        );
      })}
      <T x={271} y={247} s={11} c={RED} a="r">pAS</T>
      <T x={96} y={320} s={9} c="#333" a="c">~880 bp deletion</T>
      <T x={5} y={342} s={10}>pAS at +1110 bp</T>
      <T x={247} y={394} s={10} c={RED} a="r">PAS</T>
      <T x={103} y={462} s={9} c="#8a8a8a" a="c">~840 bp deletion</T>
      <T x={5} y={482} s={10}>PAS at +1450 bp</T>
      <T x={261} y={539} s={10} c={RED} a="r">PAS</T>
      <T x={106} y={608} s={9} c="#8a8a8a" a="c">~850 bp deletion</T>
      <T x={5} y={630} s={10}>PAS at +3.3 kb</T>
      <T x={53} y={743.3} s={9} c="#8a8a8a" a="c">~850 bp deletion</T>
      <T x={152} y={763.3} s={10} a="c">PAS at +1.4 kb</T>

      {/* ---------- panel c ---------- */}
      <T x={478} y={218} s={12} b>c</T>
      <Cv area={{ x0: C_X0, x1: C_X1, y0: C_Y0, y1: C_Y1 }} m={[2, 2, 2, 2]} make={heatCfg} />
      <Cv area={{ x0: C_X0, x1: C_X1, y0: 448, y1: 484 }} m={[1, 1, 1, 1]} make={effectCfg} />
      {C_FEATURES.map((f, r) => (
        <div key={f} style={{ position: "absolute", left: 733, top: C_Y0 + C_ROWH * (r + 0.5), fontSize: 10.8, lineHeight: 1, whiteSpace: "nowrap", transform: "translate(0,-50%) scaleX(0.78)", transformOrigin: "0 50%" }}>{f}</div>
      ))}
      {C_GENES.map((g, c) => (
        <div key={g} style={{ position: "absolute", left: C_X0 + C_COLW * (c + 0.5) - 6, top: 403, width: 12, writingMode: "vertical-rl", transform: "rotate(180deg)", fontSize: 10.5, lineHeight: "12px", whiteSpace: "nowrap" }}>{g}</div>
      ))}
      {C_EFFECTS.map((e, i) => (
        <div key={e} style={{ position: "absolute", left: 733, top: 451.5 + 9 * i, fontSize: 10.8, lineHeight: 1, whiteSpace: "nowrap", transform: "translate(0,-50%) scaleX(0.78)", transformOrigin: "0 50%" }}>{e}</div>
      ))}
      <T x={617} y={493} s={12} a="c">Promoter deletion effect on neighbor</T>

      {/* ---------- panel d ---------- */}
      <T x={484} y={521} s={12} b>d</T>
      <T x={668.5} y={521} s={9.5} b a="c">Knocked-out gene</T>
      <Cv area={{ x0: 546, x1: 790, y0: 534, y1: 638.3 }} m={[12, 4, 4, 8]} make={dCfg} />
      <T x={538} y={536.7} s={9.5} c="#22a03c" a="r">+100</T>
      <T x={538} y={585} s={9.5} a="r">0</T>
      <T x={538} y={633.3} s={9.5} c={RED} a="r">−100</T>
      <T x={546} y={649} s={9.5} a="c">−100</T>
      <T x={668} y={649} s={9.5} a="c">Distance (kb)</T>
      <T x={790} y={649} s={9.5} a="c">+100</T>
      <RT x={495} y={587} s={9.5}>Neighboring gene</RT>
      <RT x={507} y={587} s={9.5}>% Change in Expression</RT>

      {/* ---------- panel e ---------- */}
      <T x={483} y={673} s={12} b>e</T>
      <Cv area={{ x0: 535, x1: 764, y0: 676, y1: 737.7 }} m={[10, 2, 1, 6]} make={eCfg} />
      <Cv area={{ x0: 535, x1: 764, y0: 738, y1: 762 }} m={[0, 2, 2, 2]} make={eTrackCfg} />
      <T x={630} y={671} s={8.5} c="#999">500 kb</T>
      <T x={531} y={677.7} s={8} a="r">400</T>
      <T x={531} y={707.7} s={8} a="r">200</T>
      <T x={531} y={737.7} s={8} a="r">0</T>
      <RT x={501} y={702} s={8} b>Enrichment</RT>
      <RT x={509} y={702} s={8} b>versus input</RT>
      <T x={497} y={743.5} s={9}>TADs</T>
      <T x={497} y={755.5} s={9}>Genes</T>
      <T x={625.5} y={763.5} s={13} b a="c">linc1405</T>
      <T x={677.5} y={763.5} s={13} b c={BLUE} a="c">Eomes</T>
    </div>
  );
}
